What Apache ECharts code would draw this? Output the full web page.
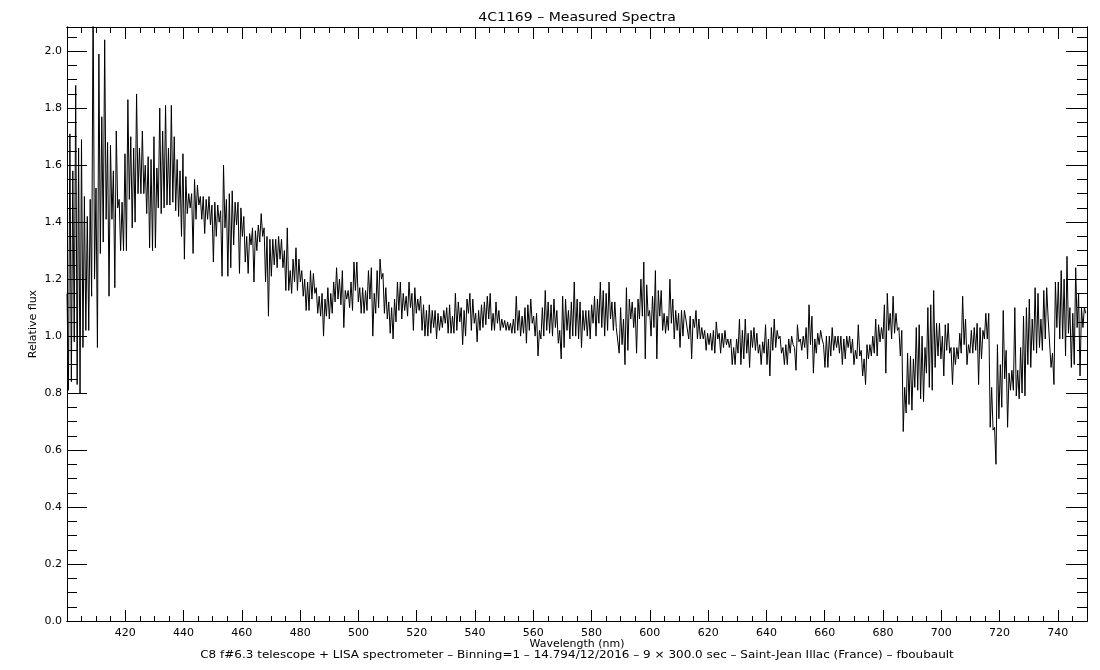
<!DOCTYPE html>
<html>
<head>
<meta charset="utf-8">
<script src="https://cdn.jsdelivr.net/npm/echarts/dist/echarts.min.js"></script>
<style>
html,body{margin:0;padding:0;background:#fff;}
#chart{width:1100px;height:670px;}
</style>
</head>
<body>
<div id="chart"></div>
<script>
// ---- texts ----
const titleText = '4C1169 – Measured Spectra';
const xAxisTitle = 'Wavelength (nm)';
const yAxisTitle = 'Relative flux';
const footnote = 'C8 f#6.3 telescope + LISA spectrometer – Binning=1 – 14.794/12/2016 – 9 × 300.0 sec – Saint-Jean Illac (France) – fboubault';

// ---- axes ----
const xRange = [400, 750];
const yRange = [0, 2.085];
const xMajorStep = 20, xMinorStep = 5;
const yMajorStep = 0.2, yMinorStep = 0.05;

// ---- spectrum sampling grid (nm) ----
const wavelengthStart = 400;
const wavelengthStep = 0.4973;

// ---- relative flux values ----
const flux = [
1.15,0.81, 1.71,0.84, 1.58,0.98, 1.88,0.83, 1.66,0.80, 1.69,0.96, 1.49,1.02, 1.42,1.02, 1.48,1.14, 2.20,1.20,
1.52,0.96, 1.99,1.29, 1.77,1.33, 2.04,1.41, 1.68,1.14, 1.67,1.41, 1.58,1.17, 1.72,1.45, 1.48,1.30, 1.47,1.30,
1.64,1.30, 1.83,1.48, 1.70,1.38, 1.66,1.40, 1.85,1.50, 1.66,1.50, 1.72,1.50, 1.60,1.43, 1.63,1.31, 1.62,1.30,
1.70,1.31, 1.59,1.45, 1.80,1.43, 1.72,1.45, 1.81,1.46, 1.66,1.46, 1.81,1.47, 1.70,1.44, 1.62,1.42, 1.58,1.35,
1.64,1.27, 1.56,1.43, 1.50,1.45, 1.50,1.29, 1.55,1.41, 1.53,1.46, 1.49,1.41, 1.49,1.36, 1.48,1.41, 1.49,1.39,
1.46,1.26, 1.47,1.35, 1.46,1.40, 1.44,1.21, 1.60,1.38, 1.48,1.21, 1.50,1.24, 1.51,1.32, 1.47,1.39, 1.47,1.22,
1.45,1.35, 1.42,1.26, 1.35,1.22, 1.36,1.32, 1.38,1.19, 1.37,1.30, 1.39,1.33, 1.43,1.35, 1.38,1.19, 1.35,1.07,
1.34,1.21, 1.34,1.25, 1.34,1.24, 1.35,1.27, 1.34,1.24, 1.30,1.16, 1.38,1.16, 1.23,1.15, 1.27,1.19, 1.31,1.16,
1.27,1.19, 1.23,1.14, 1.20,1.09, 1.19,1.09, 1.23,1.13, 1.22,1.15, 1.17,1.08, 1.14,1.07, 1.15,1.00, 1.13,1.07,
1.17,1.06, 1.15,1.08, 1.19,1.12, 1.24,1.13, 1.20,1.11, 1.23,1.03, 1.16,1.13, 1.16,1.10, 1.19,1.09, 1.26,1.16,
1.26,1.12, 1.17,1.08, 1.17,1.08, 1.16,1.09, 1.23,1.13, 1.24,1.00, 1.15,1.08, 1.23,1.10, 1.27,1.20, 1.22,1.08,
1.17,1.06, 1.12,1.01, 1.10,0.99, 1.13,1.05, 1.19,1.09, 1.19,1.06, 1.15,1.09, 1.14,1.07, 1.19,1.10, 1.15,1.02,
1.17,1.08, 1.13,1.09, 1.14,1.02, 1.11,1.00, 1.09,1.00, 1.11,1.01, 1.09,1.03, 1.09,0.99, 1.08,1.02, 1.07,1.03,
1.09,1.045, 1.10,1.01, 1.11,1.01, 1.07,1.01, 1.15,1.02, 1.12,1.05, 1.10,0.97, 1.09,1.00, 1.13,1.08, 1.15,1.02,
1.13,1.045, 1.08,0.98, 1.09,1.02, 1.11,1.03, 1.12,1.04, 1.14,1.06, 1.15,1.02, 1.08,1.02, 1.12,1.045, 1.09,1.02,
1.06,1.03, 1.055,1.02, 1.05,1.02, 1.045,1.01, 1.06,1.01, 1.14,1.02, 1.09,1.00, 1.07,1.01, 1.10,0.975, 1.11,1.02,
1.13,1.045, 1.07,1.00, 1.08,0.93, 1.02,0.99, 1.10,1.00, 1.16,1.02, 1.12,1.01, 1.11,1.00, 1.13,1.03, 1.09,0.975,
1.02,0.92, 1.14,0.96, 1.13,1.02, 1.09,0.99, 1.12,1.00, 1.19,1.00, 1.13,0.99, 1.12,0.96, 1.09,1.02, 1.09,1.00,
1.09,0.99, 1.11,1.045, 1.14,1.00, 1.13,1.045, 1.19,1.03, 1.16,1.00, 1.15,1.02, 1.19,1.06, 1.12,1.02, 1.12,1.03,
1.03,0.94, 1.10,0.97, 1.06,0.90, 1.17,0.95, 1.13,1.06, 1.12,1.03, 1.10,0.94, 1.13,1.06, 1.20,1.07, 1.26,0.92,
1.18,1.07, 1.09,1.00, 1.14,1.03, 1.23,0.92, 1.16,1.07, 1.16,1.02, 1.08,1.01, 1.07,1.02, 1.20,1.045, 1.13,0.99,
1.09,1.02, 1.08,0.96, 1.09,1.00, 1.09,1.06, 1.06,0.99, 1.07,0.92, 1.06,1.03, 1.09,0.99, 1.06,0.99, 1.03,0.99,
1.02,0.95, 1.01,0.97, 1.01,0.95, 1.02,0.94, 1.05,0.99, 1.01,0.94, 1.01,0.96, 1.02,0.97, 0.99,0.96, 0.99,0.90,
0.96,0.90, 0.99,0.94, 1.06,0.90, 1.02,0.92, 1.06,0.94, 1.01,0.89, 1.02,0.96, 1.03,0.95, 1.01,0.94, 0.97,0.90,
0.98,0.94, 1.04,0.90, 0.99,0.86, 1.03,0.95, 1.06,0.96, 1.02,0.99, 1.00,0.94, 0.96,0.90, 0.97,0.90, 0.99,0.94,
1.00,0.97, 0.96,0.88, 1.04,0.98, 0.99,0.95, 1.00,0.96, 1.03,0.92, 1.11,0.97, 1.07,0.87, 0.99,0.94, 1.01,0.97,
1.02,0.99, 0.97,0.89, 1.00,0.89, 1.00,0.93, 1.03,0.95, 1.00,0.96, 1.00,0.94, 1.00,0.90, 0.99,0.92, 1.00,0.96,
1.00,0.94, 0.99,0.90, 0.95,0.92, 1.04,0.93, 0.95,0.86, 0.92,0.83, 0.97,0.92, 0.97,0.93, 1.00,0.94, 1.06,0.93,
1.04,0.98, 1.03,0.99, 1.11,0.87, 1.15,1.02, 1.08,0.99, 1.14,1.01, 1.08,1.02, 1.03,0.93, 1.02,0.665, 0.82,0.73,
0.94,0.76, 0.93,0.74, 0.92,0.82, 1.03,0.81, 1.04,0.78, 1.00,0.77, 0.96,0.87, 1.10,0.82, 1.11,0.81, 1.16,0.89,
1.045,0.93, 1.045,0.92, 1.00,0.86, 1.04,0.95, 1.045,0.94, 0.96,0.83, 0.96,0.90, 0.96,0.92, 1.01,0.94, 1.14,0.97,
1.06,0.90, 0.97,0.94, 1.02,0.94, 1.03,0.95, 1.045,0.83, 1.03,0.92, 1.02,0.99, 1.08,0.99, 1.08,0.68, 0.82,0.67,
0.68,0.55, 0.97,0.71, 0.90,0.75, 1.09,0.85, 0.95,0.68, 0.87,0.81, 0.88,0.81, 1.10,0.79, 0.88,0.78, 0.96,0.80,
1.07,0.79, 1.10,0.90, 1.13,0.89, 1.06,0.95, 1.17,0.94, 1.15,0.96, 1.06,0.95, 1.16,0.99, 1.17,1.06, 1.06,0.89,
0.94,0.83, 1.19,1.03, 1.19,0.99, 1.23,0.99, 1.20,0.93, 1.28,1.01, 1.10,0.89, 1.08,0.90, 1.24,1.03, 1.15,0.86,
1.10,1.03, 1.10,1.08
];

const FONT = 'DejaVu Sans';
const INK = '#000';

const points = flux.map((v, i) => [wavelengthStart + i * wavelengthStep, v]);

function xAxisDef(position, step, tickLen, showLabels) {
  return {
    type: 'value', position: position, min: xRange[0], max: xRange[1], interval: step,
    axisLine: { show: true, onZero: false, lineStyle: { color: INK, width: 1 } },
    axisTick: { show: true, inside: true, length: tickLen, lineStyle: { color: INK, width: 1 } },
    axisLabel: { show: showLabels, showMinLabel: false, showMaxLabel: false, color: INK,
                 fontFamily: FONT, fontSize: 11, margin: 7 },
    splitLine: { show: false }
  };
}
function yAxisDef(position, step, tickLen, showLabels) {
  return {
    type: 'value', position: position, min: yRange[0], max: yRange[1], interval: step,
    axisLine: { show: true, onZero: false, lineStyle: { color: INK, width: 1 } },
    axisTick: { show: true, inside: true, length: tickLen, lineStyle: { color: INK, width: 1 } },
    axisLabel: { show: showLabels, showMaxLabel: false, color: INK, fontFamily: FONT, fontSize: 11,
                 margin: 5, formatter: v => v.toFixed(1) },
    splitLine: { show: false }
  };
}

const chart = echarts.init(document.getElementById('chart'), null, { renderer: 'canvas' });
chart.setOption({
  animation: false,
  backgroundColor: '#fff',
  grid: { left: 67, right: 13, top: 27, bottom: 49, containLabel: false },
  xAxis: [
    xAxisDef('bottom', xMajorStep, 11, true),
    xAxisDef('bottom', xMinorStep, 5, false),
    xAxisDef('top', xMajorStep, 12, false),
    xAxisDef('top', xMinorStep, 6, false)
  ],
  yAxis: [
    yAxisDef('left', yMajorStep, 20, true),
    yAxisDef('left', yMinorStep, 10, false),
    yAxisDef('right', yMajorStep, 21, false),
    yAxisDef('right', yMinorStep, 10, false)
  ],
  series: [{
    type: 'line', xAxisIndex: 0, yAxisIndex: 0, data: points,
    showSymbol: false, symbol: 'none', clip: true, sampling: null,
    lineStyle: { color: INK, width: 1 }
  }],
  graphic: [
    { type: 'text', x: 577, y: 18, scaleX: 1.17, style: { text: titleText, fill: INK, font: '12px "' + FONT + '"', textAlign: 'center', textVerticalAlign: 'middle' } },
    { type: 'text', x: 577, y: 644, style: { text: xAxisTitle, fill: INK, font: '11px "' + FONT + '"', textAlign: 'center', textVerticalAlign: 'middle' } },
    { type: 'text', x: 577, y: 655, scaleX: 1.09, style: { text: footnote, fill: INK, font: '11px "' + FONT + '"', textAlign: 'center', textVerticalAlign: 'middle' } },
    { type: 'text', x: 33, y: 324, rotation: Math.PI / 2, style: { text: yAxisTitle, fill: INK, font: '11px "' + FONT + '"', textAlign: 'center', textVerticalAlign: 'middle' } }
  ]
});
</script>
</body>
</html>
